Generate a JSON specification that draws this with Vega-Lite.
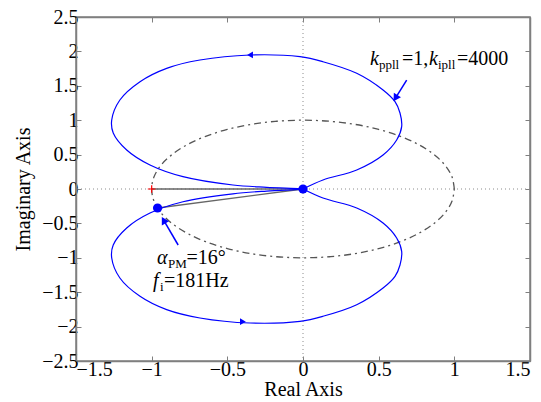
{
  "$schema": "https://vega.github.io/schema/vega-lite/v6.json",
  "width": 454,
  "height": 344,
  "autosize": {"type": "none"},
  "padding": {"left": 76, "top": 17, "right": 11, "bottom": 41},
  "background": "white",
  "config": {
    "view": {"stroke": "#7f7f7f", "strokeWidth": 1.5},
    "font": "Liberation Serif",
    "axis": {
      "labelFont": "Liberation Serif",
      "titleFont": "Liberation Serif",
      "labelFontSize": 20,
      "titleFontSize": 20,
      "titleFontWeight": "normal",
      "labelColor": "black",
      "titleColor": "black",
      "domainColor": "#7f7f7f",
      "domainWidth": 1.5,
      "tickColor": "#7f7f7f",
      "tickWidth": 1,
      "tickSize": -5,
      "grid": false
    }
  },
  "datasets": {
    "nyq": [
      {"loop": "upper", "i": 0, "re": 0, "im": 0},
      {"loop": "upper", "i": 1, "re": 0.132, "im": 0.131},
      {"loop": "upper", "i": 2, "re": 0.355, "im": 0.276},
      {"loop": "upper", "i": 3, "re": 0.529, "im": 0.494},
      {"loop": "upper", "i": 4, "re": 0.619, "im": 0.712},
      {"loop": "upper", "i": 5, "re": 0.652, "im": 0.906},
      {"loop": "upper", "i": 6, "re": 0.641, "im": 1.105},
      {"loop": "upper", "i": 7, "re": 0.608, "im": 1.269},
      {"loop": "upper", "i": 8, "re": 0.529, "im": 1.439},
      {"loop": "upper", "i": 9, "re": 0.355, "im": 1.682},
      {"loop": "upper", "i": 10, "re": 0.132, "im": 1.85},
      {"loop": "upper", "i": 11, "re": -0.02, "im": 1.923},
      {"loop": "upper", "i": 12, "re": -0.35, "im": 1.948},
      {"loop": "upper", "i": 13, "re": -0.681, "im": 1.875},
      {"loop": "upper", "i": 14, "re": -0.901, "im": 1.754},
      {"loop": "upper", "i": 15, "re": -1.077, "im": 1.56},
      {"loop": "upper", "i": 16, "re": -1.21, "im": 1.294},
      {"loop": "upper", "i": 17, "re": -1.264, "im": 1.003},
      {"loop": "upper", "i": 18, "re": -1.254, "im": 0.814},
      {"loop": "upper", "i": 19, "re": -1.165, "im": 0.567},
      {"loop": "upper", "i": 20, "re": -1.011, "im": 0.349},
      {"loop": "upper", "i": 21, "re": -0.793, "im": 0.179},
      {"loop": "upper", "i": 22, "re": -0.463, "im": 0.058},
      {"loop": "upper", "i": 23, "re": -0.24, "im": 0.025},
      {"loop": "upper", "i": 24, "re": -0.02, "im": 0.005},
      {"loop": "upper", "i": 25, "re": 0, "im": 0},
      {"loop": "lower", "i": 0, "re": 0, "im": 0},
      {"loop": "lower", "i": 1, "re": -0.02, "im": -0.005},
      {"loop": "lower", "i": 2, "re": -0.24, "im": -0.03},
      {"loop": "lower", "i": 3, "re": -0.463, "im": -0.07},
      {"loop": "lower", "i": 4, "re": -0.793, "im": -0.185},
      {"loop": "lower", "i": 5, "re": -1.011, "im": -0.349},
      {"loop": "lower", "i": 6, "re": -1.165, "im": -0.567},
      {"loop": "lower", "i": 7, "re": -1.254, "im": -0.814},
      {"loop": "lower", "i": 8, "re": -1.264, "im": -1.003},
      {"loop": "lower", "i": 9, "re": -1.21, "im": -1.294},
      {"loop": "lower", "i": 10, "re": -1.077, "im": -1.56},
      {"loop": "lower", "i": 11, "re": -0.901, "im": -1.754},
      {"loop": "lower", "i": 12, "re": -0.681, "im": -1.875},
      {"loop": "lower", "i": 13, "re": -0.35, "im": -1.948},
      {"loop": "lower", "i": 14, "re": -0.02, "im": -1.923},
      {"loop": "lower", "i": 15, "re": 0.132, "im": -1.85},
      {"loop": "lower", "i": 16, "re": 0.355, "im": -1.682},
      {"loop": "lower", "i": 17, "re": 0.529, "im": -1.439},
      {"loop": "lower", "i": 18, "re": 0.608, "im": -1.269},
      {"loop": "lower", "i": 19, "re": 0.641, "im": -1.105},
      {"loop": "lower", "i": 20, "re": 0.652, "im": -0.906},
      {"loop": "lower", "i": 21, "re": 0.619, "im": -0.712},
      {"loop": "lower", "i": 22, "re": 0.529, "im": -0.494},
      {"loop": "lower", "i": 23, "re": 0.355, "im": -0.276},
      {"loop": "lower", "i": 24, "re": 0.132, "im": -0.131},
      {"loop": "lower", "i": 25, "re": 0, "im": 0}
    ],
    "circle": [
      {"i": 0, "re": 1, "im": 0},
      {"i": 1, "re": 0.985, "im": 0.174},
      {"i": 2, "re": 0.94, "im": 0.342},
      {"i": 3, "re": 0.866, "im": 0.5},
      {"i": 4, "re": 0.766, "im": 0.643},
      {"i": 5, "re": 0.643, "im": 0.766},
      {"i": 6, "re": 0.5, "im": 0.866},
      {"i": 7, "re": 0.342, "im": 0.94},
      {"i": 8, "re": 0.174, "im": 0.985},
      {"i": 9, "re": 0, "im": 1},
      {"i": 10, "re": -0.174, "im": 0.985},
      {"i": 11, "re": -0.342, "im": 0.94},
      {"i": 12, "re": -0.5, "im": 0.866},
      {"i": 13, "re": -0.643, "im": 0.766},
      {"i": 14, "re": -0.766, "im": 0.643},
      {"i": 15, "re": -0.866, "im": 0.5},
      {"i": 16, "re": -0.94, "im": 0.342},
      {"i": 17, "re": -0.985, "im": 0.174},
      {"i": 18, "re": -1, "im": 0},
      {"i": 19, "re": -0.985, "im": -0.174},
      {"i": 20, "re": -0.94, "im": -0.342},
      {"i": 21, "re": -0.866, "im": -0.5},
      {"i": 22, "re": -0.766, "im": -0.643},
      {"i": 23, "re": -0.643, "im": -0.766},
      {"i": 24, "re": -0.5, "im": -0.866},
      {"i": 25, "re": -0.342, "im": -0.94},
      {"i": 26, "re": -0.174, "im": -0.985},
      {"i": 27, "re": 0, "im": -1},
      {"i": 28, "re": 0.174, "im": -0.985},
      {"i": 29, "re": 0.342, "im": -0.94},
      {"i": 30, "re": 0.5, "im": -0.866},
      {"i": 31, "re": 0.643, "im": -0.766},
      {"i": 32, "re": 0.766, "im": -0.643},
      {"i": 33, "re": 0.866, "im": -0.5},
      {"i": 34, "re": 0.94, "im": -0.342},
      {"i": 35, "re": 0.985, "im": -0.174},
      {"i": 36, "re": 1, "im": 0}
    ],
    "segs": [
      {"seg": "a", "re": -1, "im": 0},
      {"seg": "a", "re": 0, "im": 0},
      {"seg": "b", "re": -0.961, "im": -0.276},
      {"seg": "b", "re": 0, "im": 0}
    ],
    "dots": [
      {"re": 0, "im": 0},
      {"re": -0.961, "im": -0.276}
    ],
    "ann1": [
      {"re": 0.685, "im": 1.584},
      {"re": 0.611, "im": 1.321}
    ],
    "ann2": [
      {"re": -0.825, "im": -0.814},
      {"re": -0.921, "im": -0.453}
    ],
    "txtMain": [
      {"re": 0.654, "im": 1.802, "t": "=1,"},
      {"re": 1.018, "im": 1.802, "t": "=4000"},
      {"re": -0.77, "im": -1.094, "t": "=16°"},
      {"re": -0.919, "im": -1.429, "t": "=181Hz"}
    ],
    "txtItal": [
      {"re": 0.443, "im": 1.802, "t": "k"},
      {"re": 0.833, "im": 1.802, "t": "k"},
      {"re": -0.965, "im": -1.094, "t": "α"},
      {"re": -0.991, "im": -1.429, "t": "f"}
    ],
    "txtSub": [
      {"re": 0.502, "im": 1.744, "t": "ppll"},
      {"re": 0.892, "im": 1.744, "t": "ipll"},
      {"re": -0.892, "im": -1.141, "t": "PM"},
      {"re": -0.945, "im": -1.48, "t": "i"}
    ]
  },
  "resolve": {"axis": {"x": "independent", "y": "independent"}},
  "layer": [
    {
      "data": {"values": [{"v": 0}]},
      "mark": {"type": "rule", "color": "#8c8c8c", "strokeWidth": 1, "strokeDash": [1, 3]},
      "encoding": {
        "x": {"field": "v", "type": "quantitative", "scale": {"domain": [-1.5, 1.5], "nice": false}, "axis": null}
      }
    },
    {
      "data": {"values": [{"v": 0}]},
      "mark": {"type": "rule", "color": "#8c8c8c", "strokeWidth": 1, "strokeDash": [1, 3]},
      "encoding": {
        "y": {"field": "v", "type": "quantitative", "scale": {"domain": [-2.5, 2.5], "nice": false}, "axis": null}
      }
    },
    {
      "data": {"name": "circle"},
      "mark": {"type": "line", "color": "#555555", "strokeWidth": 1.3, "strokeDash": [7, 4, 2, 4], "interpolate": "catmull-rom"},
      "encoding": {
        "x": {"field": "re", "type": "quantitative", "scale": {"domain": [-1.5, 1.5], "nice": false},
              "axis": {"orient": "top", "labels": false, "title": null, "values": [-1.5, -1, -0.5, 0, 0.5, 1, 1.5]}},
        "y": {"field": "im", "type": "quantitative", "scale": {"domain": [-2.5, 2.5], "nice": false},
              "axis": {"orient": "right", "labels": false, "title": null, "values": [-2.5, -2, -1.5, -1, -0.5, 0, 0.5, 1, 1.5, 2, 2.5]}},
        "order": {"field": "i", "type": "quantitative"}
      }
    },
    {
      "data": {"name": "segs"},
      "mark": {"type": "line", "color": "#666666", "strokeWidth": 1.3},
      "encoding": {
        "x": {"field": "re", "type": "quantitative", "axis": null},
        "y": {"field": "im", "type": "quantitative", "axis": null},
        "detail": {"field": "seg"}
      }
    },
    {
      "data": {"name": "nyq"},
      "mark": {"type": "line", "color": "#0000ff", "strokeWidth": 1.2, "interpolate": "catmull-rom"},
      "encoding": {
        "x": {"field": "re", "type": "quantitative", "scale": {"domain": [-1.5, 1.5], "nice": false},
              "axis": {"orient": "bottom", "title": "Real Axis", "format": "~g", "labelFont": "Liberation Serif", "titleFont": "Liberation Serif", "values": [-1.5, -1, -0.5, 0, 0.5, 1, 1.5], "labelPadding": 3, "titlePadding": 0}},
        "y": {"field": "im", "type": "quantitative", "scale": {"domain": [-2.5, 2.5], "nice": false},
              "axis": {"orient": "left", "title": "Imaginary Axis", "format": "~g", "labelFont": "Liberation Serif", "titleFont": "Liberation Serif", "values": [-2.5, -2, -1.5, -1, -0.5, 0, 0.5, 1, 1.5, 2, 2.5], "labelPadding": 3, "titlePadding": 8}},
        "detail": {"field": "loop"},
        "order": {"field": "i", "type": "quantitative"}
      }
    },
    {
      "data": {"values": [{"re": -0.35, "im": 1.948}]},
      "mark": {"type": "point", "shape": "triangle-left", "filled": true, "color": "#0000ff", "size": 45, "opacity": 1},
      "encoding": {
        "x": {"field": "re", "type": "quantitative", "axis": null},
        "y": {"field": "im", "type": "quantitative", "axis": null}
      }
    },
    {
      "data": {"values": [{"re": -0.397, "im": -1.929}]},
      "mark": {"type": "point", "shape": "triangle-right", "filled": true, "color": "#0000ff", "size": 45, "opacity": 1},
      "encoding": {
        "x": {"field": "re", "type": "quantitative", "axis": null},
        "y": {"field": "im", "type": "quantitative", "axis": null}
      }
    },
    {
      "data": {"name": "ann1"},
      "mark": {"type": "line", "color": "#0000ff", "strokeWidth": 1.5},
      "encoding": {
        "x": {"field": "re", "type": "quantitative", "axis": null},
        "y": {"field": "im", "type": "quantitative", "axis": null}
      }
    },
    {
      "data": {"name": "ann2"},
      "mark": {"type": "line", "color": "#0000ff", "strokeWidth": 1.5},
      "encoding": {
        "x": {"field": "re", "type": "quantitative", "axis": null},
        "y": {"field": "im", "type": "quantitative", "axis": null}
      }
    },
    {
      "data": {"values": [{"re": 0.611, "im": 1.321}]},
      "mark": {"type": "point", "shape": "triangle-up", "filled": true, "color": "#0000ff", "size": 70, "opacity": 1, "angle": 212},
      "encoding": {
        "x": {"field": "re", "type": "quantitative", "axis": null},
        "y": {"field": "im", "type": "quantitative", "axis": null}
      }
    },
    {
      "data": {"values": [{"re": -0.921, "im": -0.453}]},
      "mark": {"type": "point", "shape": "triangle-up", "filled": true, "color": "#0000ff", "size": 70, "opacity": 1, "angle": 330},
      "encoding": {
        "x": {"field": "re", "type": "quantitative", "axis": null},
        "y": {"field": "im", "type": "quantitative", "axis": null}
      }
    },
    {
      "data": {"values": [{"re": -1, "im": 0}]},
      "mark": {"type": "point", "shape": "M-1,0L1,0M0,-1L0,1", "filled": false, "color": "#ff0000", "strokeWidth": 1.2, "size": 60, "opacity": 1},
      "encoding": {
        "x": {"field": "re", "type": "quantitative", "axis": null},
        "y": {"field": "im", "type": "quantitative", "axis": null}
      }
    },
    {
      "data": {"name": "dots"},
      "mark": {"type": "circle", "color": "#0000ff", "size": 85, "opacity": 1},
      "encoding": {
        "x": {"field": "re", "type": "quantitative", "axis": null},
        "y": {"field": "im", "type": "quantitative", "axis": null}
      }
    },
    {
      "data": {"name": "txtMain"},
      "mark": {"type": "text", "font": "Liberation Serif", "fontSize": 20, "align": "left", "baseline": "alphabetic", "color": "black"},
      "encoding": {
        "x": {"field": "re", "type": "quantitative", "axis": null},
        "y": {"field": "im", "type": "quantitative", "axis": null},
        "text": {"field": "t"}
      }
    },
    {
      "data": {"name": "txtItal"},
      "mark": {"type": "text", "font": "Liberation Serif", "fontStyle": "italic", "fontSize": 20, "align": "left", "baseline": "alphabetic", "color": "black"},
      "encoding": {
        "x": {"field": "re", "type": "quantitative", "axis": null},
        "y": {"field": "im", "type": "quantitative", "axis": null},
        "text": {"field": "t"}
      }
    },
    {
      "data": {"name": "txtSub"},
      "mark": {"type": "text", "font": "Liberation Serif", "fontSize": 13, "align": "left", "baseline": "alphabetic", "color": "black"},
      "encoding": {
        "x": {"field": "re", "type": "quantitative", "axis": null},
        "y": {"field": "im", "type": "quantitative", "axis": null},
        "text": {"field": "t"}
      }
    }
  ]
}
